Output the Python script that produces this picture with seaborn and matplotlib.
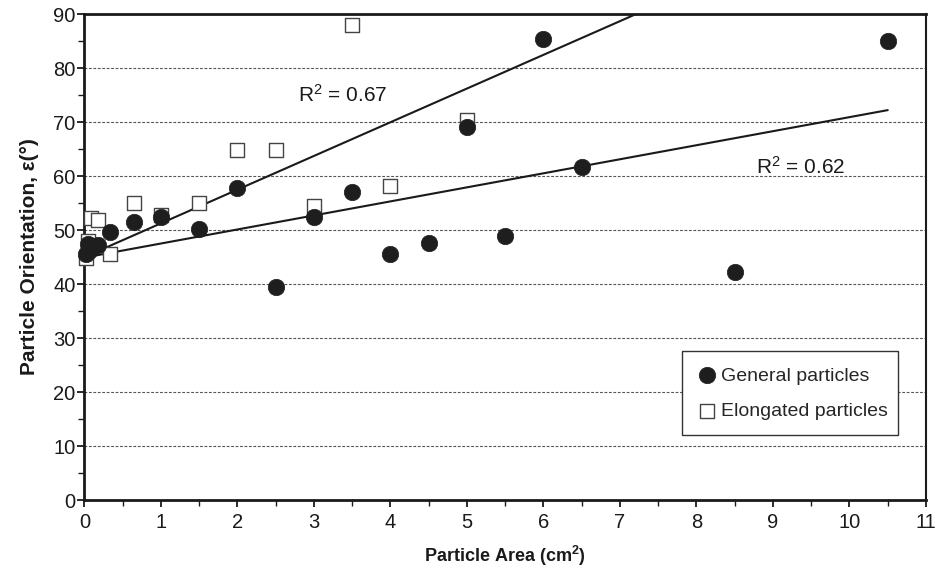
import numpy as np
import pandas as pd
import matplotlib
matplotlib.use("Agg")
import matplotlib.pyplot as plt
import seaborn as sns
from matplotlib.ticker import MultipleLocator

# ---- data ----
general_x = [0.02, 0.04, 0.06, 0.10, 0.17, 0.33, 0.65, 1.0, 1.5, 2.0, 2.5, 3.0, 3.5,
             4.0, 4.5, 5.0, 5.5, 6.0, 6.5, 8.5, 10.5]
general_y = [45.5, 47.5, 46.2, 46.8, 47.2, 49.7, 51.5, 52.5, 50.1, 57.7, 39.5, 52.5, 57.1,
             45.5, 47.6, 69.1, 48.9, 85.4, 61.7, 42.2, 85.0]

elong_x = [0.02, 0.04, 0.08, 0.17, 0.33, 0.65, 1.0, 1.5, 2.0, 2.5, 3.0, 3.5, 4.0, 5.0]
elong_y = [44.8, 48.0, 52.3, 51.8, 45.5, 55.0, 52.8, 55.0, 64.8, 64.8, 54.5, 88.0, 58.1, 70.3]

# trend lines (intercept, slope, x-range) and R^2 labels
elong_fit = (45.0, 6.24)
elong_fit_range = [0.0, 7.5]
general_fit = (44.9, 2.6)
general_fit_range = [0.0, 10.5]
r2_labels = ["R$^2$ = 0.67", "R$^2$ = 0.62"]
r2_pos = [(2.79, 75.0), (8.78, 61.7)]

series_names = ["General particles", "Elongated particles"]
x_ticks = list(range(0, 12))
y_ticks = list(range(0, 100, 10))

# ---- plotting ----
sns.set_theme(style="white")
plt.rcParams["font.family"] = ["Liberation Sans", "DejaVu Sans"]
plt.rcParams["mathtext.fontset"] = "custom"
plt.rcParams["mathtext.rm"] = "Liberation Sans"
plt.rcParams["mathtext.it"] = "Liberation Sans:italic"
plt.rcParams["mathtext.bf"] = "Liberation Sans:bold"

fig = plt.figure(figsize=(9.37, 5.73), dpi=100)
ax = fig.add_axes([84.5 / 937, 73 / 573, (926 - 84.5) / 937, 486 / 573])

df_g = pd.DataFrame({"x": general_x, "y": general_y})
df_e = pd.DataFrame({"x": elong_x, "y": elong_y})

# gridlines
for yv in y_ticks[1:-1]:
    ax.axhline(yv, color="#555555", lw=0.8, ls=(0, (2.5, 1.5)), zorder=0)

# trend lines
xs = np.array(elong_fit_range)
ax.plot(xs, elong_fit[0] + elong_fit[1] * xs, color="#1a1a1a", lw=1.5, zorder=2)
xs = np.array(general_fit_range)
ax.plot(xs, general_fit[0] + general_fit[1] * xs, color="#1a1a1a", lw=1.5, zorder=2)

sns.scatterplot(data=df_e, x="x", y="y", ax=ax, marker="s", s=110,
                facecolor="white", edgecolor="#444444", linewidth=1.0,
                zorder=3, label=series_names[1], clip_on=False)
sns.scatterplot(data=df_g, x="x", y="y", ax=ax, marker="o", s=140,
                color="#1e1e1e", edgecolor="#1e1e1e", linewidth=0.5,
                zorder=4, label=series_names[0], clip_on=False)

for txt, (tx, ty) in zip(r2_labels, r2_pos):
    ax.text(tx, ty, txt, fontsize=15, ha="left", va="center", color="#1a1a1a")

ax.set_xlim(0, 11)
ax.set_ylim(0, 90)
ax.set_xticks(x_ticks)
ax.set_yticks(y_ticks)
ax.xaxis.set_minor_locator(MultipleLocator(0.5))
ax.yaxis.set_minor_locator(MultipleLocator(5))
ax.tick_params(axis="both", which="major", direction="out", length=5, width=1.3,
               labelsize=14.5, colors="#1a1a1a", pad=4, bottom=True, left=True)
ax.tick_params(axis="y", which="major", pad=1.5)
ax.tick_params(axis="both", which="minor", direction="out", length=4, width=1.0,
               colors="#1a1a1a", bottom=True, left=True)

for side in ["top", "bottom", "left"]:
    ax.spines[side].set_linewidth(2.0)
    ax.spines[side].set_color("#1a1a1a")
ax.spines["right"].set_linewidth(1.5)
ax.spines["right"].set_color("#1a1a1a")

ax.set_xlabel("Particle Area (cm$^{\\mathbf{2}}$)", fontsize=13, fontweight="bold",
              labelpad=9, color="#1a1a1a")
ax.set_ylabel("Particle Orientation, ε(°)", fontsize=15, fontweight="bold",
              labelpad=10, color="#1a1a1a")

handles, labels = ax.get_legend_handles_labels()
order = [labels.index(n) for n in series_names]
leg = ax.legend([handles[i] for i in order], [labels[i] for i in order],
                loc="center", bbox_to_anchor=(0.710, 0.130, 0.257, 0.179),
                mode="expand", fontsize=14, frameon=True, fancybox=False,
                edgecolor="#333333", framealpha=1, borderpad=0.8, labelspacing=0.9,
                handletextpad=0.2, borderaxespad=0, handlelength=1.0)
leg.get_frame().set_linewidth(1.0)

fig.savefig("out.png", dpi=100)
